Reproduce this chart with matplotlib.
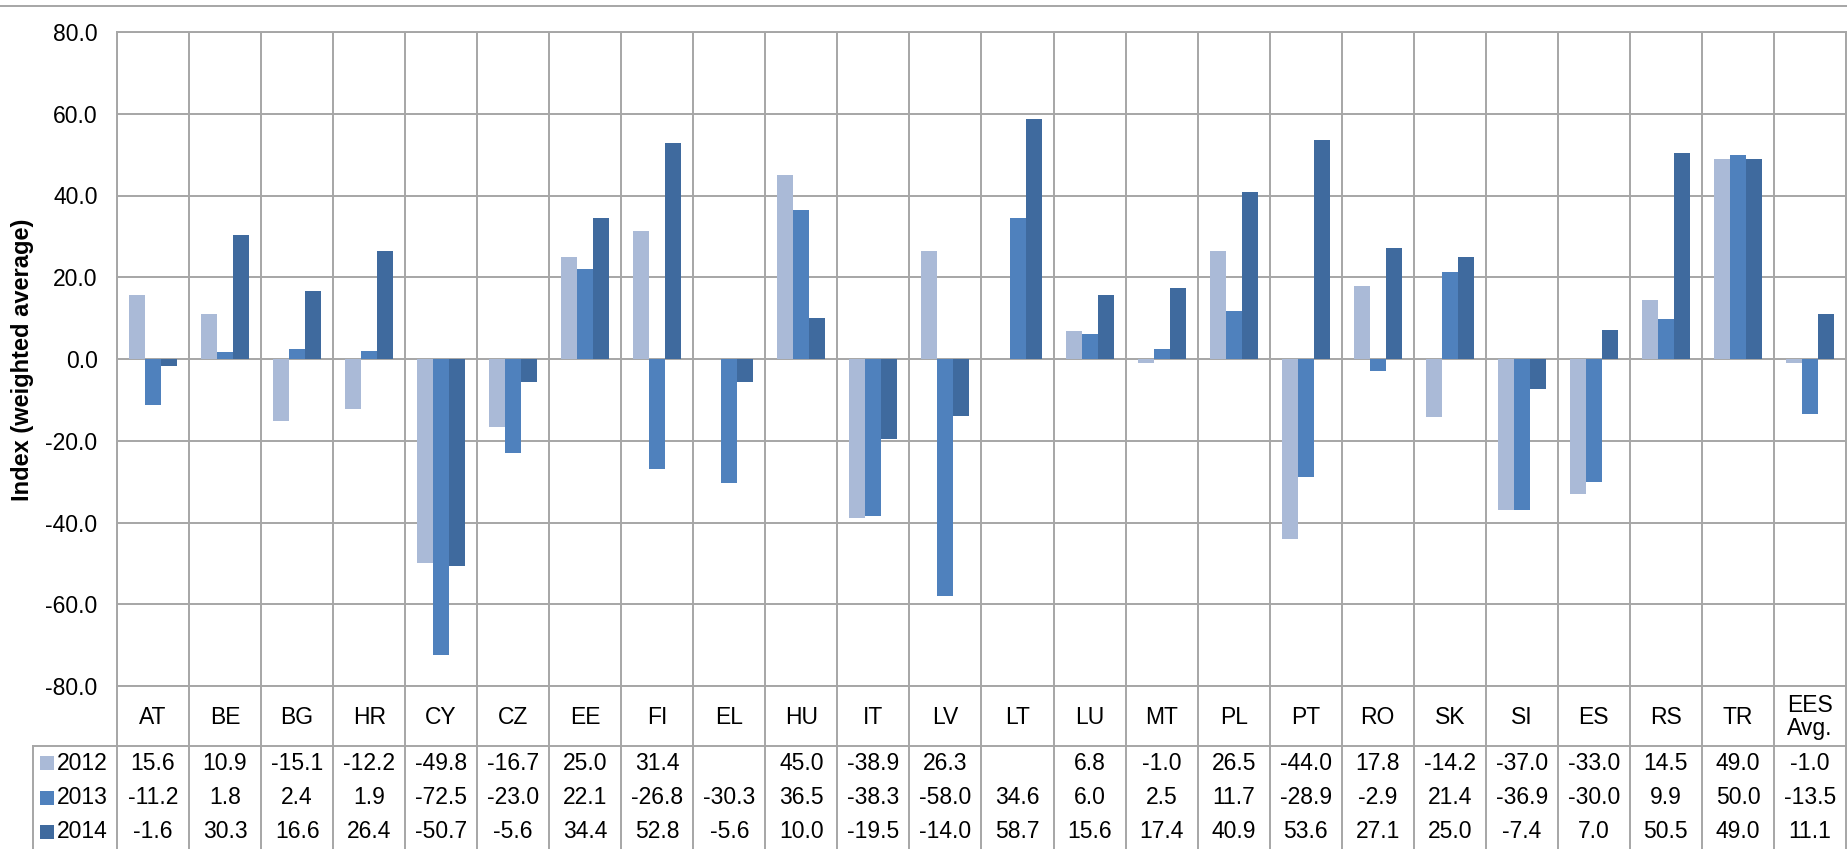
import numpy as np
import matplotlib
matplotlib.use("Agg")
import matplotlib.pyplot as plt
from matplotlib.transforms import blended_transform_factory
from matplotlib.lines import Line2D
from matplotlib.patches import Rectangle

plt.rcParams['font.family'] = ['Liberation Sans', 'DejaVu Sans']

categories = ["AT", "BE", "BG", "HR", "CY", "CZ", "EE", "FI", "EL", "HU", "IT", "LV",
              "LT", "LU", "MT", "PL", "PT", "RO", "SK", "SI", "ES", "RS", "TR", "EES\nAvg."]
years = ["2012", "2013", "2014"]
v2012 = [15.6, 10.9, -15.1, -12.2, -49.8, -16.7, 25.0, 31.4, np.nan, 45.0, -38.9, 26.3,
         np.nan, 6.8, -1.0, 26.5, -44.0, 17.8, -14.2, -37.0, -33.0, 14.5, 49.0, -1.0]
v2013 = [-11.2, 1.8, 2.4, 1.9, -72.5, -23.0, 22.1, -26.8, -30.3, 36.5, -38.3, -58.0,
         34.6, 6.0, 2.5, 11.7, -28.9, -2.9, 21.4, -36.9, -30.0, 9.9, 50.0, -13.5]
v2014 = [-1.6, 30.3, 16.6, 26.4, -50.7, -5.6, 34.4, 52.8, -5.6, 10.0, -19.5, -14.0,
         58.7, 15.6, 17.4, 40.9, 53.6, 27.1, 25.0, -7.4, 7.0, 50.5, 49.0, 11.1]
series = [v2012, v2013, v2014]
colors = ["#AABAD7", "#4F81BD", "#3F6A9E"]
yticks = np.arange(-80, 81, 20)

W, H = 1847, 849
def fx(px): return px / W
def fy(py): return 1 - py / H

grid_c = "#A6A6A6"
glw = 1.4
fs = 16.5

fig = plt.figure(figsize=(W / 100, H / 100), dpi=100)
ax = fig.add_axes([fx(117), fy(686), fx(1846) - fx(117), fy(32) - fy(686)])
n = len(categories)
x = np.arange(n)
bw = 0.2222
for k, (vals, c) in enumerate(zip(series, colors)):
    ax.bar(x + (k - 1) * bw, np.array(vals, dtype=float), width=bw, color=c,
           edgecolor='none', zorder=3)

ax.set_xlim(-0.5, n - 0.5)
ax.set_ylim(-80, 80)
ax.set_yticks(yticks)
ax.set_yticklabels([f"{t:.1f}" for t in yticks], fontsize=fs)
ax.set_xticks([])
ax.set_xticks(np.arange(-0.5, n, 1), minor=True)
ax.tick_params(axis='both', which='both', length=0, pad=14)
ax.grid(axis='y', color=grid_c, lw=glw, zorder=0)
ax.grid(axis='x', which='minor', color=grid_c, lw=glw, zorder=0)
ax.set_axisbelow(True)
for s in ax.spines.values():
    s.set_color(grid_c)
    s.set_linewidth(glw)

fig.text(fx(23), fy(360), "Index (weighted average)", rotation=90, ha='center',
         va='center', fontsize=17, fontweight='bold')

# table below
tr = blended_transform_factory(ax.transData, fig.transFigure)
for i, cat in enumerate(categories):
    ax.text(i, fy(717), cat, transform=tr, ha='center', va='center', fontsize=fs,
            linespacing=0.95, clip_on=False)
row_y = [763, 798, 832]
for k, vals in enumerate(series):
    for i, v in enumerate(vals):
        if np.isfinite(v):
            ax.text(i, fy(row_y[k]), f"{v:.1f}", transform=tr, ha='center',
                    va='center', fontsize=fs, clip_on=False)
    fig.add_artist(Rectangle((fx(40), fy(row_y[k] + 7)), fx(14), 14 / H,
                             facecolor=colors[k], edgecolor='none'))
    fig.text(fx(57), fy(row_y[k]), years[k], ha='left', va='center', fontsize=fs)

for b in np.arange(-0.5, n, 1):
    ax.add_line(Line2D([b, b], [fy(686), 0], transform=tr, color=grid_c, lw=glw,
                       clip_on=False))
fig.add_artist(Line2D([fx(33), fx(1846)], [fy(746), fy(746)], color=grid_c, lw=glw))
fig.add_artist(Line2D([fx(33), fx(33)], [fy(746), 0], color=grid_c, lw=glw))
fig.add_artist(Line2D([0, 1], [fy(6), fy(6)], color=grid_c, lw=glw))

fig.savefig("out.png", dpi=100)
